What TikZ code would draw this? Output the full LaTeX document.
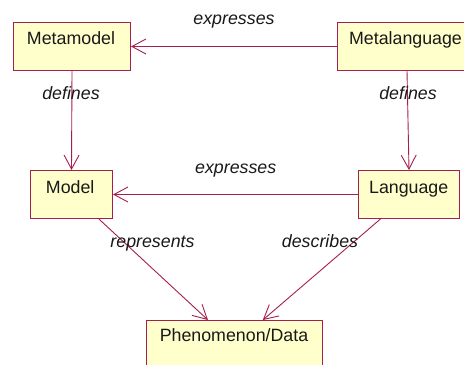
\documentclass[tikz,border=0pt]{standalone}
\usepackage{fontspec}
\setmainfont{Liberation Sans}
\usetikzlibrary{arrows.meta,calc}

\definecolor{umlline}{RGB}{165,30,80}
\definecolor{umlfill}{RGB}{255,255,204}

\begin{document}
\begin{tikzpicture}[x=1bp,y=-1bp,
  classbox/.style={draw=umlline,fill=umlfill,line width=1bp,inner sep=0pt,
    minimum width=#1,minimum height=48bp,anchor=north west},
  classname/.style={font=\fontsize{17.8bp}{20bp}\selectfont,text=black!90,anchor=base,inner sep=0pt},
  rel/.style={draw=umlline,line width=0.9bp,
    -{Straight Barb[length=14bp,width=15bp,line width=0.9bp]}},
  rellabel/.style={font=\fontsize{17.8bp}{20bp}\selectfont\itshape,text=black!90,anchor=base,inner sep=0pt}]
\clip (0,0) rectangle (464,364);
\fill[white] (0,0) rectangle (464,364);

% class boxes
\node[classbox=117bp] (metamodel) at (13,22) {};
\node[classbox=139bp] (metalang) at (337,22) {};
\node[classbox=82bp]  (model) at (30,170) {};
\node[classbox=101bp] (lang) at (358,170) {};
\node[classbox=176bp] (phen) at (146,320) {};

% class names
\node[classname] (tmetamodel) at (71,44.3) {Metamodel};
\node[classname] (tmetalang) at (405.5,44.3) {Metalanguage};
\node[classname] (tmodel) at (70.2,193.7) {Model};
\node[classname] (tlang) at (408.7,193.7) {Language};
\node[classname] (tphen) at (234,341.7) {Phenomenon/Data};

% relations
\draw[rel] (metalang.west) -- (metamodel.east);
\draw[rel] (lang.west) -- (model.east);
\draw[rel] (metamodel.south) -- (model.north);
\draw[rel] (metalang.south) -- (lang.north);
\draw[rel] ($(model.south west)!0.83!(model.south east)$) -- ($(phen.north west)!0.35!(phen.north east)$);
\draw[rel] ($(lang.south west)!0.22!(lang.south east)$) -- ($(phen.north west)!0.66!(phen.north east)$);

% relation labels
\node[rellabel] (l1) at (234,24) {expresses};
\node[rellabel] (l2) at (235.7,173) {expresses};
\node[rellabel] (l3) at (71,99) {defines};
\node[rellabel] (l4) at (408,99) {defines};
\node[rellabel] (l5) at (152.5,247.7) {represents};
\node[rellabel] (l6) at (320,247.7) {describes};
\end{tikzpicture}
\end{document}
